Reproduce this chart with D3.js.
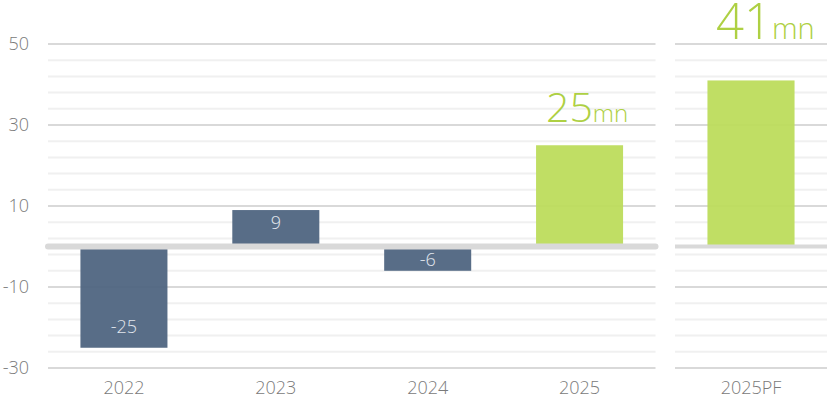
<!DOCTYPE html>
<html>
<head>
<meta charset="utf-8">
<script src="https://cdn.jsdelivr.net/npm/d3@7/dist/d3.min.js"></script>
<style>
  html, body { margin: 0; padding: 0; background: #fff; }
  svg { display: block; font-family: "Open Sans", "Noto Sans", sans-serif; }
</style>
</head>
<body>
<svg id="chart" width="833" height="398"></svg>
<script>
// Annual results (mn); the pro-forma year sits in its own panel
const categories = ["2022", "2023", "2024", "2025"];
const values = [-25, 9, -6, 25];
const proFormaCategories = ["2025PF"];
const proFormaValues = [41];
const yTickValues = [50, 30, 10, -10, -30];
const calloutLabels = { "2025": "25", "2025PF": "41" };
const calloutUnit = "mn";

const svg = d3.select("#chart");

const BLUE = "#4f6581";
const GREEN = "#bddc5c";
const GREEN_TEXT = "#aed043";
const AXIS_TEXT = "#7a7a7a";
const plain = d => String(d); // keep ASCII hyphen for negatives

const y = d3.scaleLinear().domain([-30, 50]).range([368, 44]);

const xMain = d3.scaleBand().domain(categories).range([48, 655.5])
  .paddingInner(0.427).paddingOuter(0.2135);
const xPF = d3.scaleBand().domain(proFormaCategories).range([675, 827])
  .paddingInner(0.427).paddingOuter(0.2135);

const panels = [
  { x: xMain, cats: categories, vals: values, cap: "round", zw: 6 },
  { x: xPF, cats: proFormaCategories, vals: proFormaValues, cap: "butt", zw: 4 }
];

// Gridlines every 4 units, with the labelled ones drawn darker
const gridValues = d3.range(-30, 51, 4);
const isMajor = v => yTickValues.includes(v);

panels.forEach(p => {
  const [x0, x1] = p.x.range();
  svg.append("g").selectAll("line")
    .data(gridValues)
    .join("line")
    .attr("x1", x0).attr("x2", x1)
    .attr("y1", d => y(d)).attr("y2", d => y(d))
    .attr("stroke", d => isMajor(d) ? "#d9d9d9" : "#f0f0f0")
    .attr("stroke-width", 2);
});

// Y axis labels (left panel only)
const yAxis = d3.axisLeft(y).tickValues(yTickValues).tickFormat(plain).tickSize(0).tickPadding(0);
const yAxisG = svg.append("g").attr("transform", "translate(29,0)").call(yAxis);
yAxisG.select(".domain").remove();
yAxisG.selectAll("text")
  .attr("fill", AXIS_TEXT)
  .attr("font-size", 18)
  .attr("font-weight", 300)
  .attr("font-family", "'Open Sans', sans-serif");

// Bars, axis labels, baseline and value labels for each panel
panels.forEach((p, pi) => {
  const data = p.cats.map((c, i) => ({ c, v: p.vals[i], pf: pi === 1 }));
  svg.append("g").selectAll("rect")
    .data(data)
    .join("rect")
    .attr("x", d => p.x(d.c))
    .attr("width", p.x.bandwidth())
    .attr("y", d => y(Math.max(0, d.v)))
    .attr("height", d => Math.abs(y(d.v) - y(0)))
    .attr("fill", d => calloutLabels[d.c] ? GREEN : BLUE)
    .attr("fill-opacity", 0.95);

  const xAxis = d3.axisBottom(p.x).tickSize(0).tickPadding(0);
  const xg = svg.append("g").attr("transform", "translate(0,394)").call(xAxis);
  xg.select(".domain").remove();
  xg.selectAll("text")
    .attr("dy", 0)
    .attr("fill", AXIS_TEXT)
    .attr("font-size", 18)
    .attr("font-weight", 300)
    .attr("font-family", "'Open Sans', sans-serif");

  const [x0, x1] = p.x.range();
  svg.append("line")
    .attr("x1", x0).attr("x2", x1)
    .attr("y1", y(0)).attr("y2", y(0))
    .attr("stroke", "#d9d9d9")
    .attr("stroke-width", p.zw)
    .attr("stroke-linecap", p.cap);

  const inside = data.filter(d => !calloutLabels[d.c]);
  svg.append("g").selectAll("text")
    .data(inside)
    .join("text")
    .attr("x", d => p.x(d.c) + p.x.bandwidth() / 2)
    .attr("y", d => {
      const h = Math.abs(y(d.v) - y(0));
      const inset = Math.min(h / 2, 8 + h * 0.13);
      return d.v >= 0 ? y(d.v) + inset : y(d.v) - inset;
    })
    .attr("dy", "0.35em")
    .attr("text-anchor", "middle")
    .attr("fill", "#e2e7ee")
    .attr("font-size", 18)
    .attr("font-weight", 300)
    .text(d => plain(d.v));

  // Large green callouts above the green bars
  data.filter(d => calloutLabels[d.c]).forEach(d => {
    const big = d.pf;
    const t = svg.append("text")
      .attr("x", p.x(d.c) + (big ? 8.5 : 10))
      .attr("y", big ? 39 : 122)
      .attr("fill", GREEN_TEXT)
      .attr("font-weight", 300);
    t.append("tspan").attr("font-size", big ? 49 : 41).text(calloutLabels[d.c]);
    t.append("tspan").attr("font-size", big ? 29 : 24).text(calloutUnit);
  });
});
</script>
</body>
</html>
